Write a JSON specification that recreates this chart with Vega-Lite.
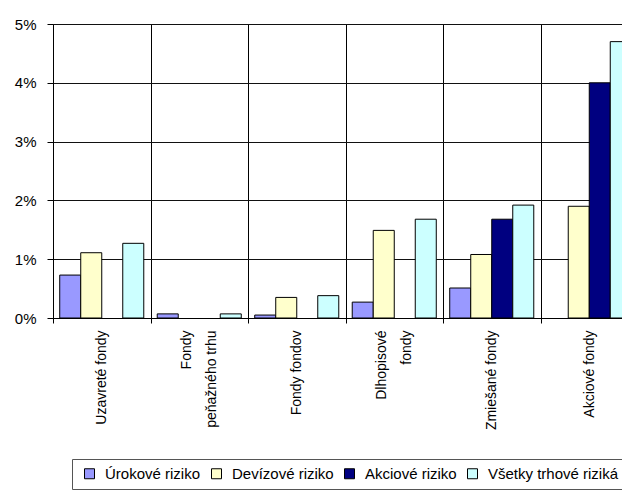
{
  "$schema": "https://vega.github.io/schema/vega-lite/v6.json",
  "autosize": "none",
  "padding": {"left": 53, "top": 24, "right": 0, "bottom": 172},
  "width": 569,
  "height": 294,
  "background": "white",
  "config": {
    "view": {"stroke": null},
    "font": "Liberation Sans",
    "axis": {"labelFont": "Liberation Sans", "labelFontSize": 14, "labelColor": "#000"},
    "legend": {"labelFont": "Liberation Sans", "labelFontSize": 15, "labelColor": "#000"}
  },
  "data": {
    "values": [
      {"fond": "Uzavreté fondy", "riziko": "Úrokové riziko", "hodnota": 0.73},
      {"fond": "Uzavreté fondy", "riziko": "Devízové riziko", "hodnota": 1.11},
      {"fond": "Uzavreté fondy", "riziko": "Všetky trhové riziká", "hodnota": 1.27},
      {"fond": "Fondy peňažného trhu", "riziko": "Úrokové riziko", "hodnota": 0.07},
      {"fond": "Fondy peňažného trhu", "riziko": "Všetky trhové riziká", "hodnota": 0.07},
      {"fond": "Fondy fondov", "riziko": "Úrokové riziko", "hodnota": 0.05},
      {"fond": "Fondy fondov", "riziko": "Devízové riziko", "hodnota": 0.35},
      {"fond": "Fondy fondov", "riziko": "Všetky trhové riziká", "hodnota": 0.38},
      {"fond": "Dlhopisové fondy", "riziko": "Úrokové riziko", "hodnota": 0.27},
      {"fond": "Dlhopisové fondy", "riziko": "Devízové riziko", "hodnota": 1.49},
      {"fond": "Dlhopisové fondy", "riziko": "Všetky trhové riziká", "hodnota": 1.68},
      {"fond": "Zmiešané fondy", "riziko": "Úrokové riziko", "hodnota": 0.51},
      {"fond": "Zmiešané fondy", "riziko": "Devízové riziko", "hodnota": 1.08},
      {"fond": "Zmiešané fondy", "riziko": "Akciové riziko", "hodnota": 1.68},
      {"fond": "Zmiešané fondy", "riziko": "Všetky trhové riziká", "hodnota": 1.92},
      {"fond": "Akciové fondy", "riziko": "Devízové riziko", "hodnota": 1.9},
      {"fond": "Akciové fondy", "riziko": "Akciové riziko", "hodnota": 4.0},
      {"fond": "Akciové fondy", "riziko": "Všetky trhové riziká", "hodnota": 4.7}
    ]
  },
  "mark": {"type": "bar", "stroke": "#000", "strokeWidth": 1},
  "encoding": {
    "x": {
      "field": "fond",
      "type": "nominal",
      "sort": ["Uzavreté fondy", "Fondy peňažného trhu", "Fondy fondov", "Dlhopisové fondy", "Zmiešané fondy", "Akciové fondy"],
      "scale": {"range": [0, 585], "paddingInner": 0, "paddingOuter": 0},
      "axis": {
        "title": null,
        "labelAngle": -90,
        "labelAlign": "right",
        "labelBaseline": "middle",
        "labelPadding": 7,
        "labelLineHeight": 25,
        "labelOffset": {"condition": {"test": "datum.label == 'Fondy peňažného trhu' || datum.label == 'Dlhopisové fondy'", "value": -12.5}, "value": 0},
        "labelExpr": "datum.label == 'Fondy peňažného trhu' ? ['Fondy\u00a0\u00a0\u00a0\u00a0\u00a0\u00a0\u00a0\u00a0', 'peňažného trhu'] : datum.label == 'Dlhopisové fondy' ? ['Dlhopisové', 'fondy\u00a0\u00a0\u00a0\u00a0'] : datum.label",
        "tickBand": "extent",
        "tickSize": 5,
        "tickColor": "#000",
        "domainColor": "#000",
        "grid": true,
        "gridColor": "#000",
        "gridOpacity": 1
      }
    },
    "xOffset": {
      "field": "riziko",
      "type": "nominal",
      "scale": {"domain": ["Úrokové riziko", "Devízové riziko", "Akciové riziko", "Všetky trhové riziká"], "paddingInner": 0, "paddingOuter": 0.32}
    },
    "y": {
      "field": "hodnota",
      "type": "quantitative",
      "scale": {"domain": [0, 5], "nice": false},
      "axis": {
        "title": null,
        "values": [0, 1, 2, 3, 4, 5],
        "labelExpr": "datum.value + '%'",
        "labelFontSize": 15,
        "tickSize": 6,
        "labelPadding": 11,
        "tickColor": "#000",
        "domainColor": "#000",
        "grid": true,
        "gridColor": "#111",
        "gridOpacity": 1
      }
    },
    "fill": {
      "field": "riziko",
      "type": "nominal",
      "scale": {"domain": ["Úrokové riziko", "Devízové riziko", "Akciové riziko", "Všetky trhové riziká"], "range": ["#9999FF", "#FFFFCC", "#000080", "#CCFFFF"]},
      "legend": {
        "title": null,
        "orient": "none",
        "direction": "horizontal",
        "legendX": 19,
        "legendY": 435,
        "padding": 7,
        "strokeColor": "#555",
        "symbolType": "square",
        "symbolSize": 100,
        "symbolStrokeColor": "#000",
        "symbolStrokeWidth": 1,
        "symbolOffset": 3,
        "labelOffset": 8,
        "columnPadding": 5,
        "labelBaseline": "middle"
      }
    }
  }
}
